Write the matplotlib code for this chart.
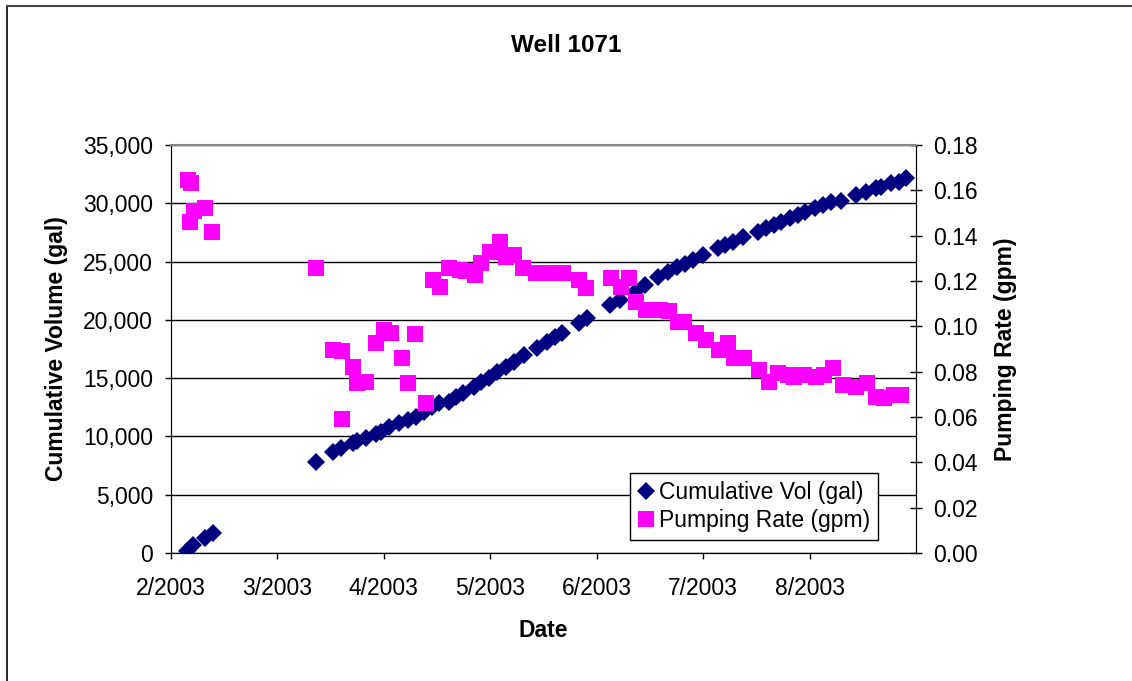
import matplotlib as mplib
mplib.use('Agg')
import matplotlib.pyplot as plt
from matplotlib.lines import Line2D

# days after 2/1/2003
vol_days = [4.4, 6.3, 9.6, 11.9, 40.9, 45.6, 48.0, 51.2, 52.5, 55.0, 57.8, 59.2,
            61.5, 64.3, 66.7, 69.0, 71.3, 73.7, 75.6, 78.4, 80.3, 82.2, 85.4, 87.3,
            89.6, 92.0, 94.3, 96.6, 99.4, 103.2, 106.0, 108.3, 110.2, 114.9, 117.2,
            123.8, 126.6, 130.8, 133.6, 137.4, 140.2, 142.5, 144.9, 147.2, 150.0,
            154.2, 156.1, 158.4, 161.2, 165.4, 167.8, 170.1, 172.0, 174.4, 176.7,
            178.6, 181.4, 183.7, 186.0, 188.8, 193.1, 195.9, 198.7, 200.1, 202.9,
            205.3, 207.1]
cum_vol = [197, 686, 1261, 1690, 7832, 8690, 8981, 9410, 9607, 9839, 10208, 10405,
           10783, 11126, 11409, 11692, 12121, 12550, 12841, 12980, 13408, 13699, 14265, 14694,
           14986, 15552, 15981, 16410, 16985, 17560, 18125, 18554, 18897, 19704, 20133,
           21273, 21702, 22414, 22989, 23701, 24130, 24559, 24780, 25134, 25562,
           26137, 26420, 26703, 27132, 27561, 27853, 28136, 28419, 28711, 28994,
           29277, 29569, 29851, 30134, 30190, 30709, 30993, 31284, 31421, 31713,
           31850, 32142]

rate_days = [4.9, 5.5, 6.5, 5.3, 9.6, 11.5, 41.0, 45.7, 48.1, 48.1, 51.2, 52.3,
             55.1, 57.9, 60.0, 61.9, 65.0, 66.8, 68.7, 71.8, 73.8, 75.7, 78.5, 81.4,
             83.2, 85.6, 87.5, 89.8, 92.6, 94.5, 96.8, 99.2, 103.0, 105.3, 107.6,
             110.4, 115.1, 117.0, 124.1, 126.9, 129.2, 131.1, 133.9, 137.7, 140.5,
             142.8, 144.7, 148.0, 150.8, 154.6, 156.9, 158.8, 161.6, 165.8, 168.7,
             171.0, 173.8, 175.7, 178.5, 181.8, 184.1, 186.5, 189.3, 193.0, 196.3,
             198.7, 201.0, 203.8, 205.7]
pump_rate = [0.1645, 0.1631, 0.151, 0.1461, 0.152, 0.1417, 0.1256, 0.0896, 0.0892, 0.059,
             0.0822, 0.0751, 0.0756, 0.0928, 0.0984, 0.0972, 0.0859, 0.0749, 0.0965, 0.066,
             0.1204, 0.1175, 0.1256, 0.1249, 0.1244, 0.1226, 0.1278, 0.1329, 0.1373, 0.1307,
             0.1315, 0.1256, 0.1234, 0.1236, 0.1236, 0.1234, 0.1204, 0.1168, 0.1212, 0.1175,
             0.1212, 0.1109, 0.1072, 0.1072, 0.1069, 0.1020, 0.1020, 0.0969, 0.0940, 0.0896,
             0.0925, 0.0859, 0.0859, 0.0807, 0.0756, 0.0793, 0.0785, 0.0778, 0.0785, 0.0778,
             0.0785, 0.0815, 0.0741, 0.0734, 0.0749, 0.0690, 0.0682, 0.0697, 0.0697]

x_ticks = [0, 30, 60, 90, 120, 150, 180]
x_labels = ['2/2003', '3/2003', '4/2003', '5/2003', '6/2003', '7/2003', '8/2003']
vol_ticks = list(range(0, 35001, 5000))
rate_ticks = [i * 0.02 for i in range(10)]

fs = 16.5
mplib.rc('font', family='Liberation Sans', size=fs)

fig = plt.figure(figsize=(11.32, 6.81), dpi=100)
ax = fig.add_axes([171 / 1132, 128 / 681, 745 / 1132, 408 / 681])
ax2 = ax.twinx()

ax.set_axisbelow(True)
ax.grid(True, axis='y', color='black', linewidth=1)
ax.plot(vol_days, cum_vol, linestyle='none', marker='D', markersize=9.3,
        color='#000080', markeredgewidth=0, label='Cumulative Vol (gal)')
ax2.plot(rate_days, pump_rate, linestyle='none', marker='s', markersize=11,
         color='#FF00FF', markeredgewidth=0, label='Pumping Rate (gpm)')

ax.set_xlim(0, 210)
ax.set_ylim(0, 35000)
ax2.set_ylim(0, 0.18)
ax.set_xticks(x_ticks)
ax.set_xticklabels(x_labels)
ax.set_yticks(vol_ticks)
ax.set_yticklabels(['{:,}'.format(v) for v in vol_ticks])
ax2.set_yticks(rate_ticks)
ax2.set_yticklabels(['%.2f' % v for v in rate_ticks])

ax.tick_params(axis='y', direction='out', length=4.5, width=1, pad=8.5)
ax.tick_params(axis='x', direction='out', length=4.5, width=1, pad=13)
ax2.tick_params(axis='y', direction='inout', length=8, width=1, pad=8)

for sp in ['left', 'bottom', 'right']:
    ax2.spines[sp].set_color('black')
ax2.spines['top'].set_color('#888888')
ax2.spines['top'].set_linewidth(1.5)
ax.spines['top'].set_visible(False)

fig.text(0.5, 1 - 46 / 681, 'Well 1071', fontweight='bold', fontsize=17.5,
         ha='center', va='center')
ax.set_xlabel('Date', fontweight='bold', fontsize=fs, labelpad=13.5)
ax.set_ylabel('Cumulative Volume (gal)', fontweight='bold', fontsize=fs, labelpad=11)
ax2.set_ylabel('Pumping Rate (gpm)', fontweight='bold', fontsize=fs, labelpad=12)

h1, l1 = ax.get_legend_handles_labels()
h2, l2 = ax2.get_legend_handles_labels()
leg = ax2.legend(h1 + h2, l1 + l2, loc='lower right', bbox_to_anchor=(0.949, 0.032),
                 borderaxespad=0, fancybox=False, framealpha=1, edgecolor='black',
                 handlelength=0.7, handletextpad=0.2, borderpad=0.35, labelspacing=0.2,
                 fontsize=fs)
leg.get_frame().set_linewidth(1)

# outer chart border (left and top edges visible)
fig.add_artist(Line2D([7 / 1132, 7 / 1132], [0, 1 - 6 / 681], color='black', linewidth=1.2))
fig.add_artist(Line2D([7 / 1132, 1], [1 - 6 / 681, 1 - 6 / 681], color='#444444', linewidth=1.5))

plt.savefig('out.png', dpi=100)
plt.close('all')
